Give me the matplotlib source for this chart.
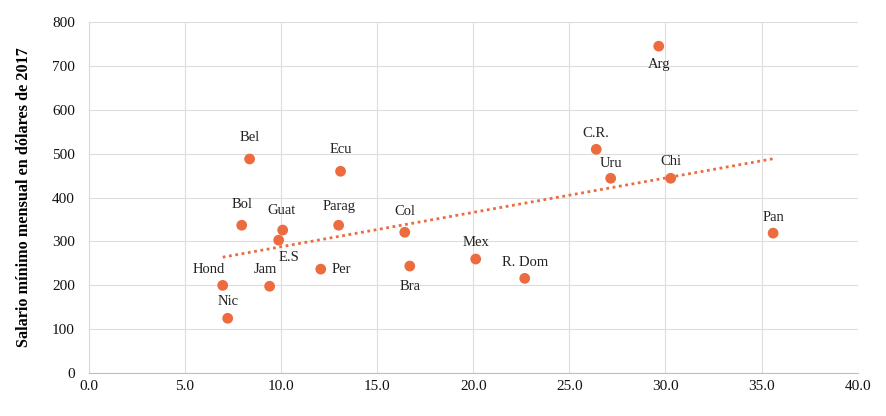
import matplotlib
matplotlib.use("Agg")
import matplotlib.pyplot as plt
import numpy as np

plt.rcParams['font.family'] = ['Liberation Serif', 'DejaVu Serif']

paises = ['Arg', 'C.R.', 'Uru', 'Chi', 'Pan', 'Bel', 'Ecu', 'Bol', 'Guat', 'E.S',
          'Parag', 'Hond', 'Jam', 'Per', 'Nic', 'Col', 'Bra', 'Mex', 'R. Dom']
x = [29.65, 26.4, 27.15, 30.27, 35.6, 8.37, 13.1, 7.96, 10.09, 9.88,
     13.0, 6.97, 9.41, 12.07, 7.23, 16.44, 16.7, 20.13, 22.68]
y = [745, 510, 444, 444, 319, 488, 460, 337, 326, 303,
     337, 200, 198, 237, 125, 321, 244, 260, 216]

# posicion de la etiqueta respecto al punto (dx, dy) en pixeles
offs = {'Arg': (0, -18), 'C.R.': (0, 16), 'Uru': (0, 15), 'Chi': (0, 17),
        'Pan': (0, 16), 'Bel': (0, 21), 'Ecu': (0, 22), 'Bol': (0, 21),
        'Guat': (-1, 20), 'E.S': (10, -17), 'Parag': (0, 19), 'Hond': (-14, 16),
        'Jam': (-4, 17), 'Per': (21, 0), 'Nic': (0, 17), 'Col': (0, 21),
        'Bra': (0, -20), 'Mex': (0, 17), 'R. Dom': (0, 16)}

color = '#EC6B3F'

fig, ax = plt.subplots(figsize=(8.87, 4.16), dpi=100)
fig.subplots_adjust(left=0.1, right=0.967, bottom=0.103, top=0.947)

ax.scatter(x, y, s=60, color=color, zorder=3, edgecolors='none')

for p, xi, yi in zip(paises, x, y):
    dx, dy = offs[p]
    ax.annotate(p, (xi, yi), xytext=(dx, dy), textcoords='offset pixels',
                ha='center', va='center', fontsize=10.5, color='#222222')

# linea de tendencia
m, b = np.polyfit(x, y, 1)
xt = np.array([min(x), max(x)])
ax.plot(xt, m * xt + b, linestyle=(0, (1, 1.3)), color=color, linewidth=2, zorder=2)

ax.set_xlim(0, 40)
ax.set_ylim(0, 800)
ax.set_xticks(np.arange(0, 41, 5))
ax.set_xticklabels(['%.1f' % v for v in np.arange(0, 41, 5)])
ax.set_yticks(range(0, 801, 100))
ax.tick_params(labelsize=11, length=0, colors='#111111')
ax.tick_params(axis='y', pad=10)
ax.tick_params(axis='x', pad=5)
ax.grid(True, color='#dddddd', linewidth=0.8)
ax.set_axisbelow(True)
for s in ['top', 'right']:
    ax.spines[s].set_visible(False)
ax.spines['left'].set_color('#d9d9d9')
ax.spines['bottom'].set_color('#bfbfbf')
ax.set_ylabel('Salario mínimo mensual en dólares de 2017', fontsize=11.7,
              fontweight='bold', labelpad=14)

plt.savefig('out.png', dpi=100)
